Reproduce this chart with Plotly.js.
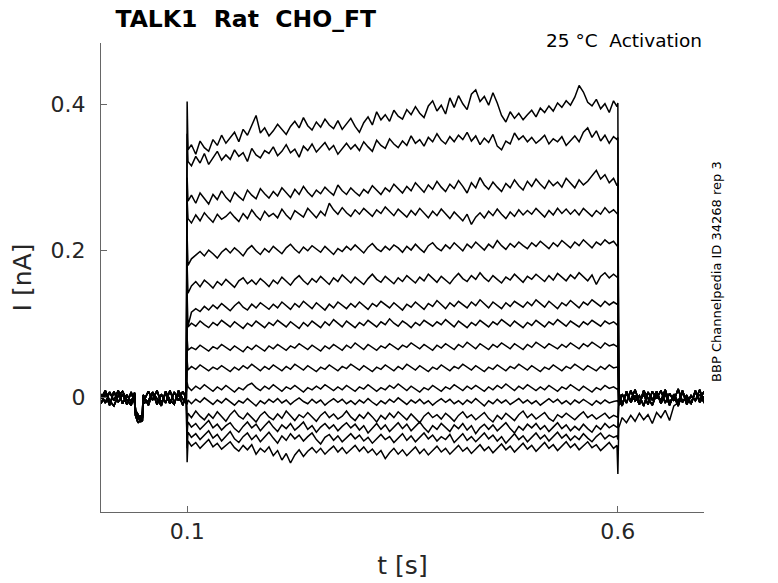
<!DOCTYPE html>
<html>
<head>
<meta charset="utf-8">
<script src="https://cdn.plot.ly/plotly-3.0.1.min.js"></script>
<style>
  html, body { margin: 0; padding: 0; background: white; }
  #chart { width: 778px; height: 583px; }
</style>
</head>
<body>
<div id="chart"></div>
<script>
// times in ms, currents in pA
var tPre = [0, 5, 10, 15, 20, 25, 30, 35, 39, 40, 43, 46, 48, 49, 55, 60, 65, 70, 75, 80, 85, 90, 95, 99];
var tOn = 100;
var stepT = [101, 105, 110, 115, 120, 125, 130, 135, 140, 145, 150, 155, 160, 165, 170, 175, 180, 185, 190, 195,
  200, 205, 210, 215, 220, 225, 230, 235, 240, 245, 250, 255, 260, 265, 270, 275, 280, 285, 290, 295,
  300, 305, 310, 315, 320, 325, 330, 335, 340, 345, 350, 355, 360, 365, 370, 375, 380, 385, 390, 395,
  400, 405, 410, 415, 420, 425, 430, 435, 440, 445, 450, 455, 460, 465, 470, 475, 480, 485, 490, 495,
  500, 505, 510, 515, 520, 525, 530, 535, 540, 545, 550, 555, 560, 565, 570, 575, 580, 585, 590, 595, 599];
var tOff = 600;
var tPost = [601, 605, 610, 615, 620, 625, 630, 635, 640, 645, 650, 655, 660, 665, 670, 675, 680, 685, 690, 695, 700];

// holding current before the step (three overlapping sweeps' worth)
var preA = [4, -8, 7, -5, 9, -9, 3, -7, 6, -20, -30, -25, -33, -7, 8, -4, 9, -8, 5, -9, 7, -5, 8, -2];
var preB = [-9, 5, -11, 8, -7, 4, -10, 7, -8, -25, -35, -31, -28, -9, -5, 7, -10, 4, -8, 9, -7, 4, -11, 6];
var preC = [-2, 9, -5, -12, 2, 8, -4, -11, 4, -18, -24, -34, -22, 3, -11, 6, -2, -12, 8, -4, -10, 9, -3, -8];

var postA = [7, -9, 5, -4, 10, -7, 4, -10, 8, -2, 9, -8, 5, -5, 11, -7, 2, -9, 7, -4, 8];
var postB = [-11, 4, -8, 9, -5, 2, -12, 7, -4, 8, -9, 5, -11, 4, -7, 9, -10, 2, -5, 10, -8];
var postC = [-3, -12, 8, -7, 2, -10, 9, -2, -11, 5, -5, 10, -8, 2, -12, 7, -3, -9, 9, -7, 1];
var postTail = [-42, -28, -35, -25, -33, -22, -31, -24, -36, -21, -28, -18, -32, -12, -8, -3, -6, 2, -4, 3, -2];

var spikeOn  = [404, 360, 300, 270, 220, 180, 140, 110, 80, 50, 20, -10, -35, -50, -70, -89];
var spikeOff = [402, 355, 292, 252, 208, 165, 128, 100, 70, 40, 12, -6, -28, -42, -58, -105];

// current during the step, one sweep per voltage
var sweep1 = [338, 345, 332, 350, 341, 336, 352, 344, 358, 347, 355, 362, 349, 366, 358, 372, 385, 361, 368, 357,
  364, 373, 366, 359, 370, 377, 368, 382, 371, 365, 376, 369, 380, 372, 367, 378, 366, 374, 381, 370,
  362, 375, 383, 372, 390, 379, 386, 377, 392, 384, 380, 393, 386, 397, 388, 382, 398, 405, 391, 399,
  387, 409, 396, 412, 401, 393, 414, 420, 404, 411, 399, 416, 402, 385, 376, 390, 381, 388, 379, 386,
  392, 383, 395, 389, 398, 391, 402, 396, 405, 399, 410, 426, 417, 403, 398, 407, 394, 401, 389, 405, 397];
var sweep2 = [322, 316, 329, 320, 333, 318, 327, 336, 324, 331, 325, 338, 329, 334, 322, 340, 331, 327, 337, 333,
  342, 330, 336, 345, 334, 339, 328, 343, 337, 346, 335, 341, 348, 338, 344, 332, 340, 347, 339, 345,
  337, 349, 342, 336, 351, 344, 340, 353, 346, 341, 350, 344, 357, 347, 352, 343, 355, 349, 360, 351,
  346, 356, 349, 358, 352, 362, 350, 357, 345, 354, 348, 359, 343, 338, 350, 346, 361, 352, 357, 349,
  355, 347, 352, 358, 346, 353, 349, 356, 344, 351, 357, 349, 362, 368, 355, 364, 350, 358, 347, 356, 352];
var sweep3 = [268, 276, 265, 279, 271, 264, 277, 270, 282, 273, 267, 280, 274, 269, 283, 276, 271, 285, 278, 272,
  281, 275, 286, 279, 273, 284, 277, 288, 280, 274, 283, 278, 287, 281, 276, 290, 282, 277, 286, 280,
  275, 284, 279, 289, 283, 277, 286, 281, 291, 285, 279, 288, 282, 293, 286, 280, 290, 284, 295, 287,
  281, 291, 285, 296, 288, 279, 293, 286, 300, 290, 284, 294, 287, 281, 292, 286, 297, 289, 283, 295,
  288, 298, 291, 285, 296, 289, 294, 287, 299, 292, 286, 297, 290, 295, 302, 310, 298, 304, 293, 299, 289];
var sweep4 = [244, 238, 249, 241, 252, 245, 239, 250, 243, 247, 253, 246, 240, 251, 244, 256, 248, 242, 254, 247,
  251, 245, 257, 249, 243, 255, 250, 246, 258, 251, 245, 254, 248, 265, 256, 250, 259, 252, 247, 256,
  250, 258, 253, 247, 256, 251, 260, 254, 248, 257, 252, 246, 255, 249, 258, 251, 245, 254, 248, 257,
  250, 244, 253, 247, 241, 250, 236, 246, 252, 245, 254, 248, 257, 250, 244, 253, 247, 256, 249, 255,
  250, 258, 252, 246, 255, 249, 258, 251, 257, 250, 256, 249, 258, 252, 247, 255, 250, 259, 252, 256, 251];
var sweep5 = [180, 189, 194, 199, 193, 201, 196, 190, 198, 203, 197, 204, 199, 193, 202, 207, 200, 195, 203, 198,
  206, 201, 196, 204, 209, 202, 197, 205, 200, 207, 203, 198, 206, 201, 195, 203, 199, 206, 201, 208,
  202, 197, 205, 210, 203, 199, 206, 201, 208, 204, 198, 206, 201, 209, 203, 198, 207, 211, 204, 200,
  208, 203, 211, 205, 200, 209, 204, 212, 206, 201, 209, 204, 214, 207, 202, 210, 205, 212, 207, 203,
  211, 206, 213, 208, 203, 211, 206, 214, 209, 204, 212, 207, 215, 209, 204, 212, 208, 215, 210, 213, 207];
var sweep6 = [142, 152, 158, 151, 160, 155, 149, 158, 153, 161, 156, 150, 159, 163, 155, 160, 154, 162, 157, 151,
  160, 155, 164, 158, 153, 161, 166, 159, 154, 162, 157, 165, 160, 154, 163, 158, 167, 161, 156, 164,
  159, 154, 162, 168, 161, 157, 165, 160, 155, 163, 158, 166, 161, 156, 164, 159, 168, 162, 157, 165,
  160, 155, 163, 169, 162, 158, 166, 161, 170, 163, 158, 166, 161, 156, 164, 160, 168, 162, 157, 165,
  161, 168, 163, 158, 166, 160, 169, 164, 159, 167, 162, 170, 164, 159, 167, 154, 165, 170, 163, 168, 164];
var sweep7 = [97, 116, 121, 117, 124, 119, 126, 121, 128, 123, 118, 125, 130, 123, 119, 127, 122, 129, 124, 120,
  127, 122, 130, 125, 120, 128, 123, 131, 126, 121, 129, 124, 119, 127, 122, 130, 125, 121, 128, 123,
  130, 125, 120, 128, 124, 131, 126, 122, 129, 124, 119, 127, 123, 130, 125, 120, 128, 124, 132, 126,
  121, 129, 124, 131, 127, 122, 130, 125, 133, 127, 122, 130, 126, 121, 129, 124, 131, 127, 123, 130,
  125, 133, 128, 123, 131, 126, 121, 129, 125, 132, 127, 122, 130, 126, 133, 128, 124, 131, 126, 130, 127];
var sweep8 = [96, 101, 97, 104, 99, 95, 102, 98, 105, 100, 96, 103, 99, 94, 101, 97, 104, 100, 95, 102,
  98, 105, 101, 96, 103, 99, 94, 102, 97, 104, 100, 95, 103, 98, 106, 101, 96, 104, 99, 95,
  102, 98, 105, 100, 96, 103, 99, 107, 101, 97, 104, 100, 95, 102, 98, 105, 101, 97, 103, 99,
  106, 101, 96, 104, 99, 95, 102, 98, 105, 100, 96, 103, 99, 106, 101, 97, 104, 100, 95, 102,
  98, 105, 101, 96, 103, 99, 106, 102, 97, 104, 100, 96, 103, 99, 105, 101, 97, 104, 100, 103, 99];
var sweep9 = [64, 68, 65, 71, 67, 63, 69, 66, 72, 68, 64, 70, 66, 62, 69, 65, 71, 67, 63, 70,
  66, 72, 68, 64, 70, 67, 73, 69, 65, 71, 67, 63, 70, 66, 72, 68, 64, 71, 67, 74,
  69, 65, 72, 68, 64, 70, 67, 73, 69, 65, 71, 68, 74, 70, 66, 72, 68, 64, 71, 67,
  73, 69, 65, 72, 68, 75, 70, 66, 73, 69, 65, 72, 68, 74, 70, 66, 73, 69, 65, 72,
  68, 75, 71, 67, 73, 69, 66, 72, 68, 74, 70, 66, 73, 69, 75, 71, 67, 74, 70, 72, 69];
var sweep10 = [37, 42, 38, 44, 40, 36, 41, 38, 43, 39, 35, 41, 37, 43, 39, 45, 40, 36, 42, 38,
  44, 40, 36, 42, 38, 45, 41, 37, 43, 39, 35, 41, 38, 44, 40, 36, 42, 39, 45, 41,
  37, 43, 39, 35, 41, 38, 44, 40, 36, 42, 38, 45, 41, 37, 43, 39, 35, 41, 38, 44,
  40, 36, 42, 39, 45, 41, 37, 43, 39, 35, 41, 38, 44, 40, 36, 42, 39, 45, 41, 37,
  43, 39, 35, 41, 38, 44, 40, 36, 42, 39, 45, 41, 37, 43, 40, 36, 42, 38, 44, 40, 41];
var sweep11 = [14, 9, 15, 11, 17, 12, 8, 14, 10, 16, 12, 7, 13, 10, 16, 19, 13, 9, 15, 11,
  17, 13, 8, 14, 11, 16, 12, 7, 13, 10, 15, 11, 17, 13, 9, 14, 10, 16, 12, 8,
  14, 11, 17, 12, 8, 13, 10, 16, 12, 18, 13, 9, 15, 11, 7, 13, 10, 16, 12, 8,
  14, 11, 17, 13, 9, 15, 11, 16, 12, 8, 14, 10, 16, 12, 18, 13, 9, 15, 11, 17,
  13, 9, 14, 10, 16, 12, 8, 14, 11, 17, 13, 9, 15, 11, 7, 13, 10, 16, 12, 14, 11];
var sweep12 = [-4, -9, -3, -7, -1, -6, -10, -4, -8, -2, -6, -11, -5, -8, -2, -7, -12, -5, -9, -3,
  -7, -2, -8, -4, -10, -5, -1, -6, -9, -3, -8, -4, -11, -6, -2, -7, -3, -9, -5, -10,
  -4, -8, -2, -7, -11, -5, -9, -3, -7, -1, -6, -10, -4, -8, -3, -9, -5, -11, -6, -2,
  -7, -3, -9, -5, -10, -4, -8, -2, -7, -12, -5, -9, -3, -8, -4, -10, -6, -2, -8, -4,
  -9, -5, -11, -6, -2, -7, -3, -9, -5, -10, -4, -8, -3, -7, -11, -5, -9, -4, -8, -6, -5];
var sweep13 = [-22, -28, -19, -26, -31, -23, -29, -20, -27, -33, -24, -18, -26, -30, -22, -28, -34, -25, -20, -27,
  -31, -23, -29, -19, -26, -32, -24, -28, -21, -27, -33, -25, -20, -28, -23, -30, -26, -19, -27, -32,
  -24, -29, -21, -27, -34, -25, -30, -22, -28, -20, -26, -31, -23, -29, -35, -26, -21, -28, -24, -30,
  -22, -27, -33, -25, -20, -28, -24, -31, -26, -21, -29, -34, -25, -30, -22, -27, -32, -24, -19, -28,
  -23, -30, -26, -21, -29, -33, -24, -28, -22, -27, -31, -25, -20, -28, -24, -30, -26, -22, -29, -25, -27];
var sweep14 = [-34, -41, -36, -44, -38, -32, -42, -37, -45, -39, -35, -43, -48, -40, -34, -42, -37, -46, -39, -33,
  -41, -47, -38, -43, -36, -45, -40, -34, -44, -39, -48, -41, -36, -43, -38, -46, -40, -35, -42, -37,
  -45, -39, -49, -42, -36, -44, -38, -47, -41, -35, -43, -37, -46, -40, -34, -42, -48, -39, -44, -36,
  -41, -47, -38, -43, -36, -45, -39, -50, -42, -37, -44, -38, -46, -41, -35, -43, -49, -40, -45, -37,
  -42, -36, -44, -39, -47, -41, -35, -43, -38, -46, -40, -45, -37, -43, -48, -39, -44, -36, -42, -38, -41];
var sweep15 = [-48, -55, -50, -58, -52, -46, -56, -51, -60, -53, -47, -57, -62, -54, -49, -58, -52, -61, -55, -48,
  -56, -63, -53, -59, -50, -57, -52, -60, -54, -49, -58, -64, -55, -51, -59, -53, -61, -56, -50, -57,
  -52, -60, -55, -63, -57, -51, -58, -54, -62, -56, -50, -59, -53, -61, -55, -49, -57, -52, -60, -54,
  -58, -51, -62, -56, -50, -59, -54, -61, -55, -49, -57, -52, -60, -54, -63, -56, -50, -58, -53, -61,
  -55, -49, -57, -52, -60, -54, -48, -56, -51, -59, -53, -58, -50, -56, -61, -54, -49, -57, -52, -55, -53];
var sweep16 = [-60, -67, -62, -70, -64, -58, -68, -63, -71, -66, -61, -69, -74, -66, -72, -65, -78, -70, -75, -68,
  -80, -73, -86, -77, -90, -79, -72, -81, -74, -69, -76, -70, -78, -72, -67, -75, -69, -77, -71, -66,
  -74, -68, -76, -71, -79, -73, -84, -76, -70, -78, -72, -80, -74, -68, -77, -71, -79, -73, -67, -75,
  -70, -78, -72, -66, -74, -69, -77, -71, -65, -73, -68, -76, -70, -64, -72, -67, -75, -69, -63, -71,
  -66, -74, -68, -62, -70, -65, -73, -67, -61, -69, -64, -72, -67, -61, -69, -65, -73, -68, -62, -70, -66];

var sweeps = [sweep1, sweep2, sweep3, sweep4, sweep5, sweep6, sweep7, sweep8,
  sweep9, sweep10, sweep11, sweep12, sweep13, sweep14, sweep15, sweep16];
var pres = [preA, preB, preC];
var posts = [postA, postB, postC];

var tAll = tPre.concat([tOn], stepT, [tOff], tPost).map(function (ms) { return ms / 1000; });

var data = sweeps.map(function (s, i) {
  var post = (i === 15) ? postTail : posts[i % 3];
  var y = pres[i % 3].concat([spikeOn[i]], s, [spikeOff[i]], post).map(function (pA) { return pA / 1000; });
  return {
    type: "scatter",
    mode: "lines",
    x: tAll,
    y: y,
    line: {color: "black", width: 1.5},
    hoverinfo: "skip",
    showlegend: false
  };
});

var tickFont = {family: "DejaVu Sans", size: 22, color: "#262626"};
var labelFont = {family: "DejaVu Sans", size: 25, color: "#262626"};

var layout = {
  width: 778,
  height: 583,
  margin: {l: 101, r: 74, t: 43, b: 71},
  paper_bgcolor: "white",
  plot_bgcolor: "white",
  font: {family: "DejaVu Sans", color: "#262626"},
  title: {
    text: "<b>TALK1\u00a0 Rat\u00a0 CHO_FT</b>",
    font: {family: "DejaVu Sans", size: 23.5, color: "black"},
    xref: "paper", x: 0.24, xanchor: "center",
    yref: "container", y: 0.967, yanchor: "middle"
  },
  xaxis: {
    range: [0, 0.7],
    tickvals: [0.1, 0.6],
    ticktext: ["0.1", "0.6"],
    ticks: "inside", ticklen: 6, tickcolor: "#666",
    showline: true, linecolor: "#666", linewidth: 1,
    showgrid: false, zeroline: false,
    tickfont: tickFont,
    title: {text: "t [s]", font: labelFont, standoff: 13}
  },
  yaxis: {
    range: [-0.157, 0.484],
    tickvals: [0, 0.2, 0.4],
    ticktext: ["0", "0.2", "0.4"],
    ticks: "inside", ticklen: 6, tickcolor: "#666",
    showline: true, linecolor: "#666", linewidth: 1,
    showgrid: false, zeroline: false,
    tickfont: tickFont,
    ticklabelstandoff: 10,
    title: {text: "I [nA]", font: labelFont, standoff: 11}
  },
  annotations: [
    {
      text: "25 °C\u00a0 Activation",
      xref: "paper", yref: "paper", x: 1, y: 1.006,
      xanchor: "right", yanchor: "middle", showarrow: false,
      font: {family: "DejaVu Sans", size: 18.5, color: "black"}
    },
    {
      text: "BBP Channelpedia ID 34268 rep 3",
      xref: "paper", yref: "paper", x: 1.0216, y: 0.512,
      xanchor: "center", yanchor: "middle", showarrow: false,
      textangle: -90,
      font: {family: "DejaVu Sans", size: 13, color: "black"}
    }
  ]
};

Plotly.newPlot("chart", data, layout, {displayModeBar: false, staticPlot: true});
</script>
</body>
</html>
